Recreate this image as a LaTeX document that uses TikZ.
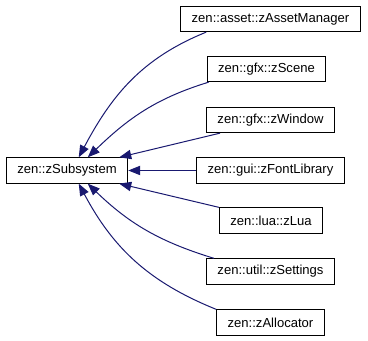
\documentclass[tikz,border=0pt]{standalone}
\usepackage{fontspec}
\setmainfont{Liberation Sans}
\usetikzlibrary{arrows.meta,calc}
\definecolor{midnight}{RGB}{25,25,112}

\begin{document}
\begin{tikzpicture}[x=0.75pt,y=0.75pt]
\tikzstyle{class}=[draw=black, fill=white, line width=0.75pt, minimum height=19pt, inner xsep=8.25pt, inner ysep=0pt, font=\fontsize{9.8}{12}\selectfont]
\tikzstyle{inherit}=[draw=midnight, line width=0.75pt, -{Triangle[length=9pt,width=7pt,fill=midnight]}]
\useasboundingbox (0,0) rectangle (368,341);

\node[class] (sub) at (67,170.5) {zen::zSubsystem};
\foreach \name/\cls/\x/\y in {asset/zen::asset::zAssetManager/270.5/322,
    scene/zen::gfx::zScene/266.5/272, window/zen::gfx::zWindow/270.5/221,
    font/zen::gui::zFontLibrary/270.5/170.5, lua/zen::lua::zLua/271/120.5,
    settings/zen::util::zSettings/270.5/69.5, alloc/zen::zAllocator/270.5/18.5} {
\node[class] (\name) at (\x,\y) {\cls};
}

% derived classes point back to the base
\draw[inherit] ($(asset.south west)+(26,0)$) to[out=202,in=62] ($(sub.north west)+(73,0)$);
\draw[inherit] ($(scene.south west)+(2,0)$) to[out=197,in=44] ($(sub.north west)+(82,0)$);
\draw[inherit] ($(window.south west)+(14,0)$) -- ($(sub.north east)+(-9,0)$);
\draw[inherit] (font.west) -- (sub.east);
\draw[inherit] (lua.north west) -- ($(sub.south east)+(-9,0)$);
\draw[inherit] ($(settings.north west)+(8,0)$) to[out=163,in=-44] ($(sub.south west)+(82,0)$);
\draw[inherit] (alloc.north west) to[out=158,in=-62] ($(sub.south west)+(73,0)$);

\end{tikzpicture}
\end{document}
